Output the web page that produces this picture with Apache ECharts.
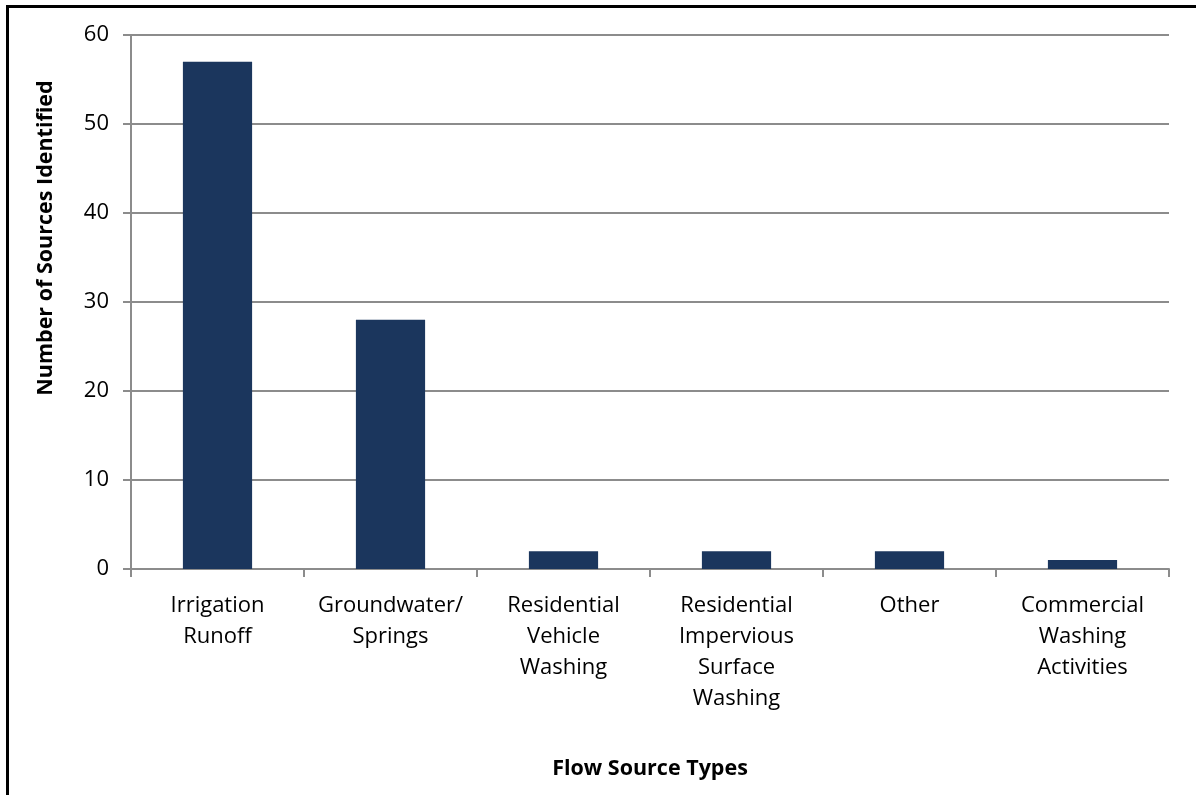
<!DOCTYPE html>
<html>
<head>
<meta charset="utf-8">
<script src="https://cdn.jsdelivr.net/npm/echarts@6/dist/echarts.min.js"></script>
<style>
  html, body { margin: 0; padding: 0; background: #fff; }
  #chart { width: 1196px; height: 795px; }
</style>
</head>
<body>
<div id="chart"></div>
<script>
// Flow source types and how many of each were identified
const categories = [
  'Irrigation\nRunoff',
  'Groundwater/\nSprings',
  'Residential\nVehicle\nWashing',
  'Residential\nImpervious\nSurface\nWashing',
  'Other',
  'Commercial\nWashing\nActivities'
];
const sourceCounts = [57, 28, 2, 2, 2, 1];
const yTicks = [0, 10, 20, 30, 40, 50, 60];

const FONT = '"Open Sans", sans-serif';
const GRID_COLOR = '#8c8c8c';

const chart = echarts.init(document.getElementById('chart'), null, { renderer: 'canvas' });
chart.setOption({
  animation: false,
  backgroundColor: '#ffffff',
  grid: { left: 131, right: 27, top: 35, bottom: 226, containLabel: false },
  graphic: [
    // frame along top and left edges
    { type: 'rect', shape: { x: 6, y: 5, width: 1190, height: 3 }, style: { fill: '#000' } },
    { type: 'rect', shape: { x: 6, y: 5, width: 3, height: 790 }, style: { fill: '#000' } }
  ],
  xAxis: {
    type: 'category',
    data: categories,
    name: 'Flow Source Types',
    nameLocation: 'middle',
    nameGap: 189,
    nameTextStyle: { fontFamily: FONT, fontWeight: 'bold', fontSize: 21.5, color: '#000' },
    axisLine: { lineStyle: { color: GRID_COLOR, width: 2 } },
    axisTick: { show: true, alignWithLabel: false, length: 8, lineStyle: { color: GRID_COLOR, width: 2 } },
    axisLabel: {
      interval: 0,
      margin: 21,
      fontFamily: FONT,
      fontSize: 22,
      lineHeight: 31,
      color: '#000',
      align: 'center'
    },
    splitLine: { show: false }
  },
  yAxis: {
    type: 'value',
    min: yTicks[0],
    max: yTicks[yTicks.length - 1],
    interval: yTicks[1] - yTicks[0],
    name: 'Number of Sources Identified',
    nameLocation: 'middle',
    nameGap: 74,
    nameRotate: 90,
    nameTextStyle: {
      fontFamily: FONT, fontWeight: 'bold', fontSize: 21.5, color: '#000',
      padding: [0, 0, 0, 128]
    },
    axisLine: { show: true, lineStyle: { color: GRID_COLOR, width: 2 } },
    axisTick: { show: true, length: 8, lineStyle: { color: GRID_COLOR, width: 2 } },
    axisLabel: { margin: 22, fontFamily: FONT, fontSize: 22, color: '#000' },
    splitLine: { show: true, lineStyle: { color: GRID_COLOR, width: 2 } }
  },
  series: [{
    type: 'bar',
    data: sourceCounts,
    barWidth: '40%',
    itemStyle: { color: '#1b365d' }
  }]
});
</script>
</body>
</html>
